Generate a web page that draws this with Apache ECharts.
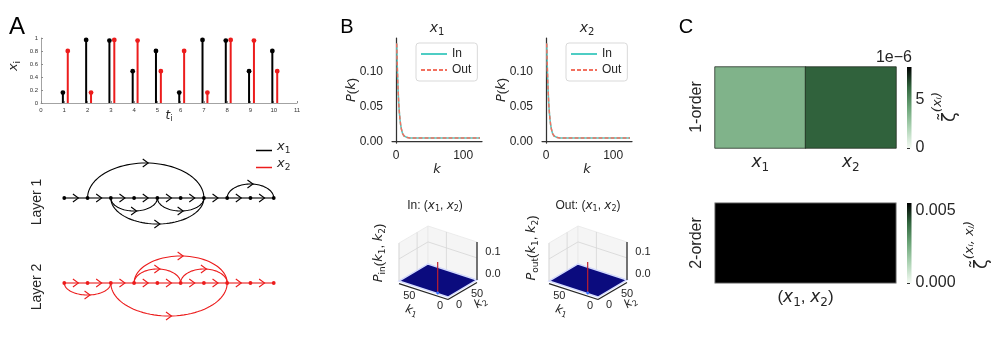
<!DOCTYPE html>
<html><head><meta charset="utf-8">
<script src="https://cdn.jsdelivr.net/npm/echarts@6/dist/echarts.min.js"></script>
<style>html,body{margin:0;padding:0;background:#fff}#c{width:1000px;height:343px}</style>
</head><body><div id="c"></div><script>
// ---------------- DATA ----------------
const timeSteps = [1, 2, 3, 4, 5, 6, 7, 8, 9, 10];
const x1Values = [0.16, 0.97, 0.96, 0.49, 0.80, 0.16, 0.97, 0.96, 0.49, 0.80];
const x2Values = [0.80, 0.16, 0.97, 0.96, 0.49, 0.80, 0.16, 0.97, 0.96, 0.49];
const stemXTicks = [0, 1, 2, 3, 4, 5, 6, 7, 8, 9, 10, 11];
const stemYTicks = [0, 0.2, 0.4, 0.6, 0.8, 1];

const layerNodes = [1, 2, 3, 4, 5, 6, 7, 8, 9, 10];
// [from node, to node, arc height (+ above / - below)]
const layer1Arcs = [[2, 7, 3.5], [3, 5, -1.3], [5, 7, -1.3], [3, 7, -2.6], [8, 10, 1.4]];
const layer2Arcs = [[1, 3, -1.2], [4, 8, 2.7], [4, 6, 1.4], [6, 8, 1.4], [3, 8, -3.3]];

const degreeK = [1, 2, 3, 4, 5, 6, 7, 8, 9, 10, 12, 14, 17, 20, 30, 50, 75, 100, 125];
const pInX1  = [0.140, 0.103, 0.075, 0.055, 0.041, 0.031, 0.023, 0.018, 0.014, 0.011, 0.008, 0.0065, 0.0057, 0.0053, 0.005, 0.005, 0.005, 0.005, 0.005];
const pOutX1 = [0.140, 0.103, 0.075, 0.055, 0.041, 0.031, 0.023, 0.018, 0.014, 0.011, 0.008, 0.0065, 0.0057, 0.0053, 0.005, 0.005, 0.005, 0.005, 0.005];
const pInX2  = [0.140, 0.103, 0.075, 0.055, 0.041, 0.031, 0.023, 0.018, 0.014, 0.011, 0.008, 0.0065, 0.0057, 0.0053, 0.005, 0.005, 0.005, 0.005, 0.005];
const pOutX2 = [0.140, 0.103, 0.075, 0.055, 0.041, 0.031, 0.023, 0.018, 0.014, 0.011, 0.008, 0.0065, 0.0057, 0.0053, 0.005, 0.005, 0.005, 0.005, 0.005];
const pYTicks = [0, 0.05, 0.10];
const pXTicks = [0, 100];

const kMax3d = 80, zMax3d = 0.172;
const k3dTicks = [0, 50];
const z3dTicks = [0, 0.1];
const jointInPeak = [18, 2, 0.14];   // [k1, k2, P]
const jointOutPeak = [18, 2, 0.14];

const order1Cats = ['x_1', 'x_2'];
const order1Vals = [3.5e-6, 6.3e-6];
const order1Max = 8.3e-6;
const order1Ticks = [0, 5e-6];
const order2Cats = ['(x_1, x_2)'];
const order2Vals = [0.0056];
const order2Max = 0.00556;
const order2Ticks = [0, 0.005];

// ---------------- STYLE ----------------
const FONT = '"Liberation Sans", Arial, sans-serif';
const MATH = '"DejaVu Sans", sans-serif';
const BLACK = '#000000', RED = '#ec1c1c';
const TEAL = '#4ecdc4', SALMON = '#f2705f';
const GREENS = ['#f4faf3', '#add3b4', '#6ba477', '#32663e', '#000000'];
const LAYER1_BASE = 13.2, LAYER2_BASE = 4.7;
const TXT = '#262626';

const chart = echarts.init(document.getElementById('c'));

// "x_1" -> rich tokens: italic letter + upright subscript; other chars upright
function mt(str) {
  let out = '', buf = '';
  const flush = () => { if (buf) { out += '{n|' + buf + '}'; buf = ''; } };
  for (let i = 0; i < str.length; i++) {
    const c = str[i];
    if (/[a-zA-Z]/.test(c) && str[i + 1] === '_') {
      flush();
      let j = i + 2, sub = '';
      while (j < str.length && /[a-zA-Z0-9]/.test(str[j])) { sub += str[j]; j++; }
      out += '{m|' + c + '}{s|' + sub + '}';
      i = j - 1;
    } else if (/[a-zA-Z]/.test(c) && !/[a-zA-Z]/.test(str[i - 1] || '') && !/[a-zA-Z]/.test(str[i + 1] || '')) {
      flush(); out += '{m|' + c + '}';
    } else buf += c;
  }
  flush();
  return out;
}
const richMath = (F) => ({
  n: {fontFamily: FONT, fontSize: F, lineHeight: F, verticalAlign: 'top', color: TXT},
  m: {fontFamily: MATH, fontStyle: 'italic', fontSize: F, lineHeight: F, verticalAlign: 'top', color: TXT},
  s: {fontFamily: MATH, fontSize: Math.round(F * 0.7), lineHeight: Math.round(F * 1.6), verticalAlign: 'middle', color: TXT}
});
const richZeta = {
  z: {fontFamily: MATH, fontSize: 18, lineHeight: 28, verticalAlign: 'bottom', color: TXT},
  s: {fontFamily: MATH, fontStyle: 'italic', fontSize: 13, lineHeight: 13, verticalAlign: 'top', color: TXT}
};

function chevron(p, color) {
  return {type: 'polyline', shape: {points: [[p[0] - 3, p[1] - 4], [p[0] + 2.5, p[1]], [p[0] - 3, p[1] + 4]]},
    style: {stroke: color, lineWidth: 1.1, fill: 'none'}};
}
function stemRender(color) {
  return function (params, api) {
    const p0 = api.coord([api.value(0), 0]), p1 = api.coord([api.value(0), api.value(1)]);
    return {type: 'group', children: [
      {type: 'line', shape: {x1: p0[0], y1: p0[1], x2: p1[0], y2: p1[1]}, style: {stroke: color, lineWidth: 2}},
      {type: 'circle', shape: {cx: p1[0], cy: p1[1], r: 2.4}, style: {fill: color}}
    ]};
  };
}
function chainRender(color, last) {
  return function (params, api) {
    const n = api.value(0), base = api.value(1);
    const p = api.coord([n, base]);
    const ch = [];
    if (n < last) {
      const q = api.coord([n + 1, base]);
      ch.push({type: 'line', shape: {x1: p[0], y1: p[1], x2: q[0], y2: q[1]}, style: {stroke: color, lineWidth: 1.1}});
      ch.push(chevron(api.coord([n + 0.5, base]), color));
    }
    ch.push({type: 'circle', shape: {cx: p[0], cy: p[1], r: 1.9}, style: {fill: color}});
    return {type: 'group', children: ch};
  };
}
function arcRender(color) {
  return function (params, api) {
    const a = api.value(0), b = api.value(1), h = api.value(2), base = api.value(3);
    const cx = (a + b) / 2, rx = (b - a) / 2;
    const pts = [];
    for (let j = 0; j <= 48; j++) {
      const th = Math.PI * j / 48;
      pts.push(api.coord([cx - rx * Math.cos(th), base + h * Math.sin(th)]));
    }
    return {type: 'group', children: [
      {type: 'polyline', shape: {points: pts}, style: {stroke: color, lineWidth: 1.1, fill: 'none'}},
      chevron(api.coord([cx, base + h]), color)
    ]};
  };
}
function render3D(peak) {
  return function (params, api) {
    const cs = params.coordSys;
    const F = [cs.x + 0.628 * cs.width, cs.y + cs.height];
    const L = [cs.x, cs.y + 0.775 * cs.height];
    const R = [cs.x + cs.width, cs.y + 0.76 * cs.height];
    const zPx = 0.535 * cs.height / zMax3d;
    const K = kMax3d, Z = zMax3d;
    const P = (k1, k2, z) => [F[0] + (L[0] - F[0]) * k1 / K + (R[0] - F[0]) * k2 / K,
                              F[1] + (L[1] - F[1]) * k1 / K + (R[1] - F[1]) * k2 / K - z * zPx];
    const ch = [];
    const line = (a, b, c, w) => ch.push({type: 'line', shape: {x1: a[0], y1: a[1], x2: b[0], y2: b[1]}, style: {stroke: c, lineWidth: w}});
    const off = (p, dx, dy) => [p[0] + dx, p[1] + dy];
    const txt = (p, text, rot, extra) => ch.push({type: 'text', x: p[0], y: p[1], rotation: rot || 0,
      style: Object.assign({text: text, fontSize: 11, fontFamily: FONT, fill: TXT, align: 'center', verticalAlign: 'middle'}, extra || {})});
    ch.push({type: 'polygon', shape: {points: [P(K, 0, 0), P(K, K, 0), P(K, K, Z), P(K, 0, Z)]}, style: {fill: '#f5f5f5', stroke: '#e8e8e8', lineWidth: 0.8}});
    ch.push({type: 'polygon', shape: {points: [P(K, K, 0), P(0, K, 0), P(0, K, Z), P(K, K, Z)]}, style: {fill: '#f5f5f5', stroke: '#e8e8e8', lineWidth: 0.8}});
    k3dTicks.forEach(t => { line(P(K, t, 0), P(K, t, Z), '#d6d6d6', 0.8); line(P(t, K, 0), P(t, K, Z), '#d6d6d6', 0.8); });
    z3dTicks.forEach(z => { line(P(K, 0, z), P(K, K, z), '#d6d6d6', 0.8); line(P(K, K, z), P(0, K, z), '#d6d6d6', 0.8); });
    ch.push({type: 'polygon', shape: {points: [P(0, 0, 0), P(K, 0, 0), P(K, K, 0), P(0, K, 0)]}, style: {fill: '#0b0b7e', stroke: '#d4dbff', lineWidth: 1.4}});
    const b = P(peak[0], peak[1], 0), t = P(peak[0], peak[1], peak[2]);
    line(b, t, '#c0202e', 1.2);
    ch.push({type: 'circle', shape: {cx: b[0], cy: b[1], r: 1.4}, style: {fill: '#2f6bff'}});
    line(off(P(0, 0, 0), 0, 2.5), off(P(K, 0, 0), 0, 2.5), '#262626', 1.3);
    line(off(P(0, 0, 0), 0, 2.5), off(P(0, K, 0), 0, 2.5), '#262626', 1.3);
    line(P(0, K, 0), P(0, K, Z), '#262626', 1.2);
    k3dTicks.forEach(v => { txt(off(P(v, 0, 0), -8, 9), String(v)); txt(off(P(0, v, 0), 11, 8), String(v)); });
    z3dTicks.forEach(z => txt(off(P(0, K, z), 16, -6), z.toFixed(1)));
    txt(off(P(K / 2, 0, 0), -13, 25), mt('k_1'), -0.3, {rich: richMath(12)});
    txt(off(P(0, K / 2, 0), 20, 17), mt('k_2'), 0.6, {rich: richMath(12)});
    return {type: 'group', children: ch};
  };
}
function cbarRender(params, api) {
  const p0 = api.coord([0, api.value(0)]), p1 = api.coord([1, api.value(1)]);
  return {type: 'rect', shape: {x: p0[0], y: p1[1], width: p1[0] - p0[0], height: p0[1] - p1[1]},
    style: {fill: {type: 'linear', x: 0, y: 1, x2: 0, y2: 0,
      colorStops: GREENS.map((c, i) => ({offset: i / (GREENS.length - 1), color: c}))}}};
}

function txt(x, y, text, opts) {
  return Object.assign({type: 'text', x: x, y: y, rotation: 0, silent: true,
    style: Object.assign({text: text, fontFamily: FONT, fontSize: 12, fill: TXT, align: 'center', verticalAlign: 'middle'}, (opts && opts.style) || {})},
    opts && opts.rotation !== undefined ? {rotation: opts.rotation} : {});
}
const R90 = Math.PI / 2;

const lineSeries = (name, xi, data, color, dashed) => ({
  type: 'line', name: name, xAxisIndex: xi, yAxisIndex: xi, symbol: 'none', showSymbol: false, animation: false,
  data: degreeK.map((k, i) => [k, data[i]]),
  lineStyle: {color: color, width: 1.5, type: dashed ? [4, 2] : 'solid'}, itemStyle: {color: color}
});

const series = [
  {type: 'custom', name: 'x1', xAxisIndex: 0, yAxisIndex: 0, renderItem: stemRender(BLACK), itemStyle: {color: BLACK},
    data: timeSteps.map((t, i) => [t - 0.06, x1Values[i]]), clip: false},
  {type: 'custom', name: 'x2', xAxisIndex: 0, yAxisIndex: 0, renderItem: stemRender(RED), itemStyle: {color: RED},
    data: timeSteps.map((t, i) => [t + 0.15, x2Values[i]]), clip: false},
  {type: 'custom', name: 'x1', xAxisIndex: 1, yAxisIndex: 1, renderItem: chainRender(BLACK, layerNodes[layerNodes.length - 1]),
    itemStyle: {color: BLACK}, data: layerNodes.map(n => [n, LAYER1_BASE]), clip: false},
  {type: 'custom', name: 'x1', xAxisIndex: 1, yAxisIndex: 1, renderItem: arcRender(BLACK),
    itemStyle: {color: BLACK}, data: layer1Arcs.map(a => [a[0], a[1], a[2], LAYER1_BASE]), clip: false},
  {type: 'custom', name: 'x2', xAxisIndex: 1, yAxisIndex: 1, renderItem: chainRender(RED, layerNodes[layerNodes.length - 1]),
    itemStyle: {color: RED}, data: layerNodes.map(n => [n, LAYER2_BASE]), clip: false},
  {type: 'custom', name: 'x2', xAxisIndex: 1, yAxisIndex: 1, renderItem: arcRender(RED),
    itemStyle: {color: RED}, data: layer2Arcs.map(a => [a[0], a[1], a[2], LAYER2_BASE]), clip: false},
  lineSeries('In', 2, pInX1, TEAL, false),
  lineSeries('Out', 2, pOutX1, SALMON, true),
  lineSeries('In', 3, pInX2, TEAL, false),
  lineSeries('Out', 3, pOutX2, SALMON, true),
  {type: 'custom', name: 'jointIn', xAxisIndex: 4, yAxisIndex: 4, renderItem: render3D(jointInPeak), data: [[0.5, 0.5]], clip: false},
  {type: 'custom', name: 'jointOut', xAxisIndex: 5, yAxisIndex: 5, renderItem: render3D(jointOutPeak), data: [[0.5, 0.5]], clip: false},
  {type: 'heatmap', name: 'order1', xAxisIndex: 6, yAxisIndex: 6, data: order1Vals.map((v, i) => [i, 0, v]),
    itemStyle: {borderColor: 'rgba(30,40,30,0.75)', borderWidth: 1}},
  {type: 'custom', name: 'cbar1', xAxisIndex: 7, yAxisIndex: 7, renderItem: cbarRender, data: [[0, order1Max]], clip: false},
  {type: 'heatmap', name: 'order2', xAxisIndex: 8, yAxisIndex: 8, data: order2Vals.map((v, i) => [i, 0, v]),
    itemStyle: {borderColor: '#a8a8a8', borderWidth: 1}},
  {type: 'custom', name: 'cbar2', xAxisIndex: 9, yAxisIndex: 9, renderItem: cbarRender, data: [[0, order2Max]], clip: false}
];

const bX = (gi) => ({gridIndex: gi, type: 'value', min: -6, max: 128,
  axisLine: {show: true, lineStyle: {color: '#333', width: 1.25}}, axisTick: {show: false},
  axisLabel: {customValues: pXTicks, fontSize: 12, color: TXT, margin: 7, fontFamily: FONT}, splitLine: {show: false}});
const bY = (gi) => ({gridIndex: gi, type: 'value', min: -0.002, max: 0.148,
  axisLine: {show: true, lineStyle: {color: '#333', width: 1.25}}, axisTick: {show: false},
  axisLabel: {customValues: pYTicks, fontSize: 12, color: TXT, margin: 9, fontFamily: FONT, formatter: v => v.toFixed(2)},
  splitLine: {show: false}});
const hidden = (gi, mn, mx) => ({gridIndex: gi, type: 'value', min: mn, max: mx, show: false});
const bLegend = (left) => ({left: left, top: 43, orient: 'vertical', data: ['In', 'Out'], itemWidth: 26, itemHeight: 12, itemGap: 4,
  padding: [5, 6, 5, 4], borderColor: '#d9d9d9', borderWidth: 1, borderRadius: 3, backgroundColor: '#fff',
  itemStyle: {opacity: 0}, textStyle: {fontSize: 12, color: TXT, fontFamily: FONT}});

const option = {
  animation: false,
  textStyle: {fontFamily: FONT},
  grid: [
    {left: 41, top: 38, width: 256, height: 65},
    {left: 41, top: 140, width: 256, height: 190},
    {left: 392, top: 38, width: 90, height: 105},
    {left: 542, top: 38, width: 90, height: 105},
    {left: 399, top: 226, width: 78, height: 71},
    {left: 549, top: 226, width: 78, height: 71},
    {left: 715, top: 67, width: 181, height: 81},
    {left: 907, top: 67, width: 4.5, height: 81},
    {left: 715, top: 203, width: 181, height: 80},
    {left: 907, top: 203, width: 4.5, height: 80}
  ],
  xAxis: [
    {gridIndex: 0, type: 'value', min: stemXTicks[0], max: stemXTicks[stemXTicks.length - 1], interval: 1,
      axisLine: {lineStyle: {color: '#8c8c8c', width: 0.8}}, axisTick: {inside: true, length: 2, lineStyle: {color: '#8c8c8c'}},
      axisLabel: {fontSize: 6, color: '#333', margin: 4}, splitLine: {show: false}},
    hidden(1, 0, 11),
    bX(2), bX(3),
    hidden(4, 0, 1), hidden(5, 0, 1),
    {gridIndex: 6, type: 'category', data: order1Cats, axisLine: {show: false}, axisTick: {show: false},
      axisLabel: {margin: 6, formatter: mt, rich: richMath(17)}},
    hidden(7, 0, 1),
    {gridIndex: 8, type: 'category', data: order2Cats, axisLine: {show: false}, axisTick: {show: false},
      axisLabel: {margin: 6, formatter: mt, rich: richMath(17)}},
    hidden(9, 0, 1)
  ],
  yAxis: [
    {gridIndex: 0, type: 'value', min: stemYTicks[0], max: stemYTicks[stemYTicks.length - 1], interval: 0.2,
      axisLine: {show: true, lineStyle: {color: '#8c8c8c', width: 0.8}}, axisTick: {show: true, inside: true, length: 2, lineStyle: {color: '#8c8c8c'}},
      axisLabel: {fontSize: 6, color: '#333', margin: 3, formatter: v => String(+v.toFixed(1))}, splitLine: {show: false}},
    hidden(1, 0, 19),
    bY(2), bY(3),
    hidden(4, 0, 1), hidden(5, 0, 1),
    {gridIndex: 6, type: 'category', data: ['1-order'], show: false},
    {gridIndex: 7, type: 'value', min: 0, max: order1Max, position: 'right', axisLine: {show: false},
      axisTick: {show: true, customValues: order1Ticks, length: 3, lineStyle: {color: '#333'}},
      axisLabel: {customValues: order1Ticks, fontSize: 16, color: TXT, margin: 4, formatter: v => String(Math.round(v / 1e-6))},
      splitLine: {show: false}},
    {gridIndex: 8, type: 'category', data: ['2-order'], show: false},
    {gridIndex: 9, type: 'value', min: 0, max: order2Max, position: 'right', axisLine: {show: false},
      axisTick: {show: true, customValues: order2Ticks, length: 3, lineStyle: {color: '#333'}},
      axisLabel: {customValues: order2Ticks, fontSize: 16, color: TXT, margin: 4, formatter: v => v.toFixed(3)},
      splitLine: {show: false}}
  ],
  visualMap: [
    {show: false, seriesIndex: 12, min: 0, max: order1Max, inRange: {color: GREENS}},
    {show: false, seriesIndex: 14, min: 0, max: order2Max, inRange: {color: GREENS}}
  ],
  legend: [
    {left: 256, top: 140, orient: 'vertical', itemWidth: 16, itemHeight: 1.5, itemGap: 2, padding: 0,
      data: [{name: 'x1', icon: 'rect', itemStyle: {color: BLACK}}, {name: 'x2', icon: 'rect', itemStyle: {color: RED}}],
      formatter: n => mt(n === 'x1' ? 'x_1' : 'x_2'),
      textStyle: {rich: richMath(13)}},
    bLegend(416), bLegend(566)
  ],
  series: series,
  graphic: [
    txt(17, 27, 'A', {style: {fontSize: 24, fill: '#000'}}),
    txt(347, 27, 'B', {style: {fontSize: 20, fill: '#000'}}),
    txt(686, 27, 'C', {style: {fontSize: 20, fill: '#000'}}),
    txt(18, 66, mt('x_i'), {rotation: R90, style: {rich: richMath(13)}}),
    txt(169, 119, mt('t_i'), {style: {rich: richMath(12)}}),
    txt(37, 202, 'Layer 1', {rotation: R90, style: {fontSize: 14}}),
    txt(37, 287, 'Layer 2', {rotation: R90, style: {fontSize: 14}}),
    txt(437, 32, mt('x_1'), {style: {rich: richMath(14)}}),
    txt(587, 32, mt('x_2'), {style: {rich: richMath(14)}}),
    txt(352, 90, mt('P(k)'), {rotation: R90, style: {rich: richMath(13)}}),
    txt(502, 90, mt('P(k)'), {rotation: R90, style: {rich: richMath(13)}}),
    txt(437, 170, mt('k'), {style: {rich: richMath(13)}}),
    txt(587, 170, mt('k'), {style: {rich: richMath(13)}}),
    txt(435, 209, mt('In: (x_1, x_2)'), {style: {rich: richMath(12)}}),
    txt(588, 209, mt('Out: (x_1, x_2)'), {style: {rich: richMath(12)}}),
    txt(383, 253, '{m|P}{s|in}{n|(}{m|k}{s|1}{n|, }{m|k}{s|2}{n|)}', {rotation: R90, style: {rich: richMath(13)}}),
    txt(536, 248, '{m|P}{s|out}{n|(}{m|k}{s|1}{n|, }{m|k}{s|2}{n|)}', {rotation: R90, style: {rich: richMath(13)}}),
    txt(912, 58, '1e−6', {style: {fontSize: 16, align: 'right'}}),
    txt(697, 107, '1-order', {rotation: R90, style: {fontSize: 16}}),
    txt(697, 243, '2-order', {rotation: R90, style: {fontSize: 16}}),
    txt(945, 107, '{z|ζ̃}{s|(xᵢ)}', {rotation: R90, style: {rich: richZeta}}),
    txt(977, 245, '{z|ζ̃}{s|(xᵢ, xⱼ)}', {rotation: R90, style: {rich: richZeta}})
  ]
};
chart.setOption(option);
</script></body></html>
